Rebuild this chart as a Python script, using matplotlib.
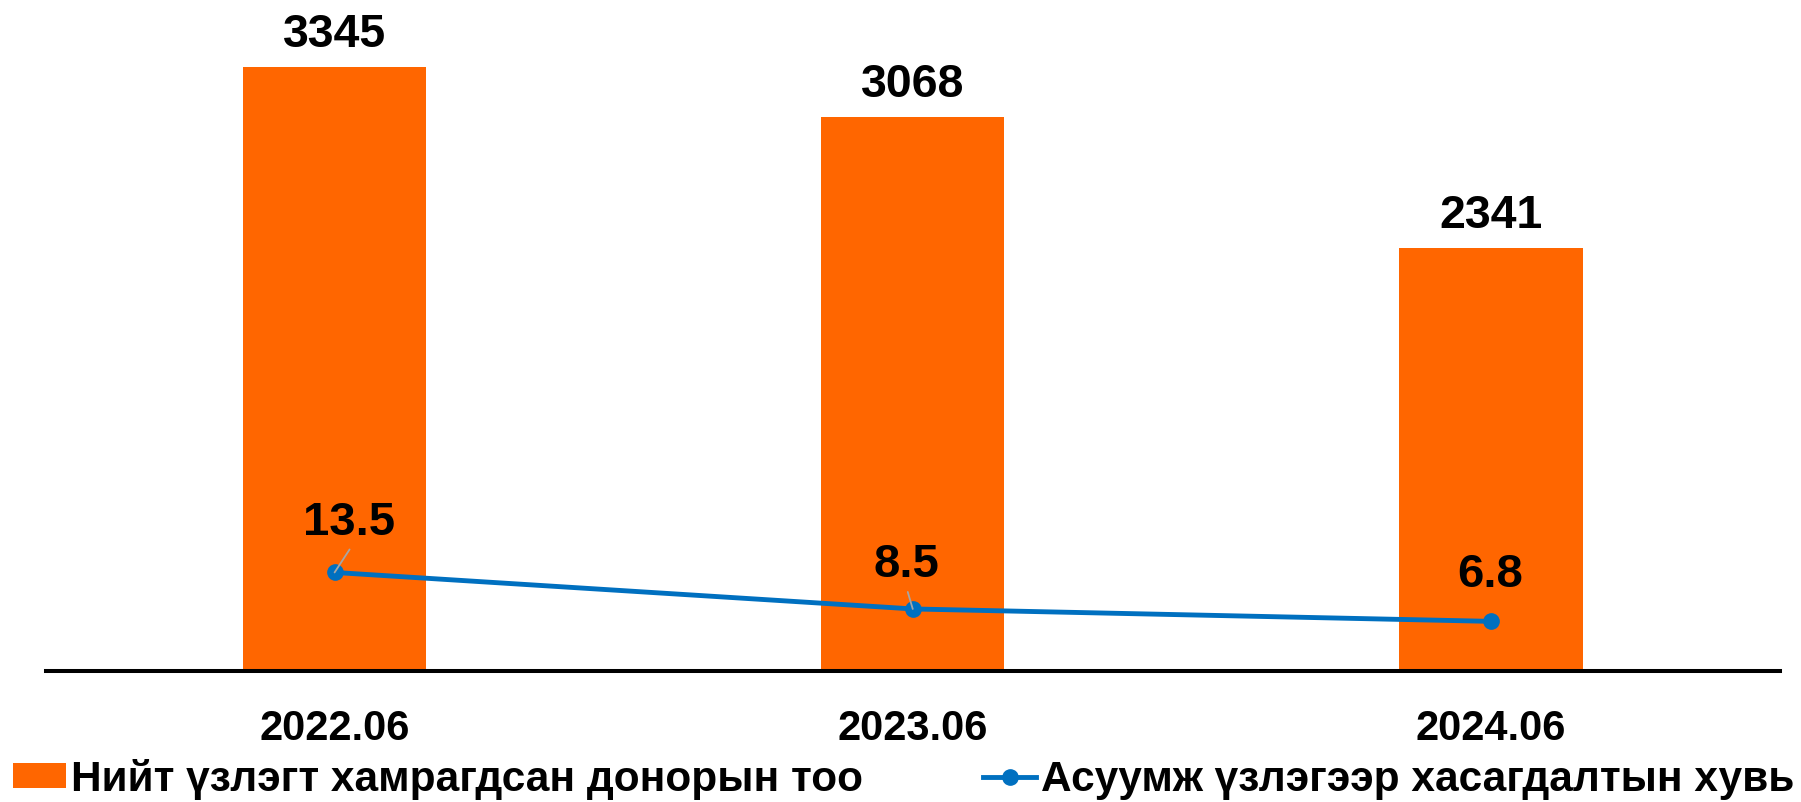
import matplotlib
matplotlib.use("Agg")
import matplotlib.pyplot as plt
from matplotlib.patches import Patch
from matplotlib.lines import Line2D

plt.rcParams['font.family'] = ['Liberation Sans', 'DejaVu Sans']
plt.rcParams['font.weight'] = 'bold'

categories = ["2022.06", "2023.06", "2024.06"]
donors = [3345, 3068, 2341]
excluded_pct = [13.5, 8.5, 6.8]
bar_label = "Нийт үзлэгт хамрагдсан донорын тоо"
line_label = "Асуумж үзлэгээр хасагдалтын хувь"

BAR_COLOR = "#FF6600"
LINE_COLOR = "#0070C0"

W, H = 1801, 803
fig = plt.figure(figsize=(W / 100, H / 100), dpi=100)
ax = fig.add_axes([45.5 / W, 131 / H, (1780 - 45.5) / W, 672 / H])
ax2 = ax.twinx()

x = list(range(len(categories)))
ax.bar(x, donors, width=0.317, color=BAR_COLOR, zorder=1)
ax.set_xlim(-0.5, len(categories) - 0.5)
ax.set_ylim(0, 3721.6)
ax2.set_ylim(0, 92.05)

for i, v in zip(x, donors):
    ax.annotate(f"{v}", xy=(i, v), xytext=(0, 15), textcoords="offset points",
                ha="center", va="baseline", fontsize=33.5, fontweight="bold", color="black")

ax2.plot(x, excluded_pct, color=LINE_COLOR, lw=3.5, marker="o", markersize=11, zorder=3)

# label offsets in pixels (dx, dy up) and leader lines
label_offsets = [(14.5, 38), (-6.5, 33), (-1, 35.5)]
leaders = [(15, 23), (-5, 17), None]
px2pt = 72 / 100
for i, v, (dx, dy), ld in zip(x, excluded_pct, label_offsets, leaders):
    ax2.annotate(f"{v}", xy=(i, v), xytext=(dx * px2pt, dy * px2pt), textcoords="offset points",
                 ha="center", va="baseline", fontsize=34, fontweight="bold", color="black", zorder=5)
    if ld is not None:
        ax2.annotate("", xy=(i, v), xytext=(ld[0] * px2pt, ld[1] * px2pt), textcoords="offset points",
                     arrowprops=dict(arrowstyle="-", color="#A6A6A6", lw=1.3, shrinkA=0, shrinkB=0),
                     zorder=4)

ax.set_xticks(x)
ax.set_xticklabels(categories, fontsize=30, fontweight="bold")
ax.tick_params(axis="x", length=0, pad=27)
ax.set_yticks([])
ax2.set_yticks([])
for a in (ax, ax2):
    for s in ("top", "left", "right"):
        a.spines[s].set_visible(False)
ax2.spines["bottom"].set_visible(False)
ax.spines["bottom"].set_linewidth(2.9)
ax.spines["bottom"].set_color("black")
ax.spines["bottom"].set_zorder(5)

handles = [Patch(facecolor=BAR_COLOR, edgecolor="none", label=bar_label),
           Line2D([0], [0], color=LINE_COLOR, lw=3.5, marker="o", markersize=11, label=line_label)]
fig.legend(handles=handles, loc="center left", bbox_to_anchor=(13 / W, 23 / H),
           ncol=2, frameon=False, prop={"weight": "bold", "size": 30.5},
           handlelength=1.24, handleheight=0.54, handletextpad=0.12, columnspacing=2.85,
           borderpad=0, borderaxespad=0)

fig.savefig("out.png", dpi=100)
